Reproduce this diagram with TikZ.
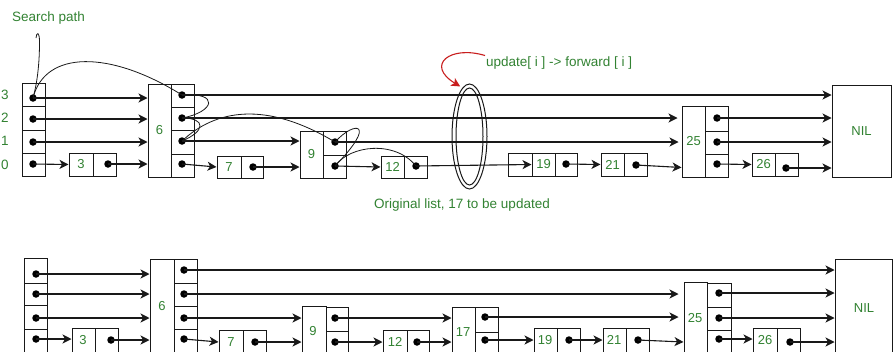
\documentclass[tikz,border=0pt]{standalone}
\usepackage{fontspec}
\setmainfont{Liberation Sans}
\usetikzlibrary{arrows.meta,fit,shapes.geometric,calc}
\definecolor{txtgreen}{RGB}{50,130,50}
\definecolor{linecol}{RGB}{25,25,25}
\definecolor{redarr}{RGB}{200,30,30}
\tikzset{
  cell/.style={draw=linecol, line width=1pt, inner sep=0pt, fill=white},
  lbl/.style={text=txtgreen, font=\fontsize{13}{15}\selectfont, inner sep=0pt},
  txt/.style={text=txtgreen, font=\fontsize{13.5}{16}\selectfont, inner sep=1pt},
  arr/.style={draw=linecol, line width=1.1pt, -{Stealth[length=9pt,width=9pt,inset=2.5pt]}},
  srch/.style={draw=linecol, line width=0.8pt},
  redline/.style={draw=redarr, line width=1.1pt, -{Stealth[length=9pt,width=9pt,inset=2.5pt]}},
  dot/.style={circle, fill=black, inner sep=0pt, minimum size=7.5pt},
  ringshape/.style={draw=linecol, line width=1pt, ellipse, inner sep=0pt}
}
\newcommand\mybox[3]{\node[cell, fit={#2 #3}] (#1) {};}
\begin{document}
\begin{tikzpicture}[x=1pt,y=-1pt]
\useasboundingbox (0,0) rectangle (894,351);
\clip (0,0) rectangle (894,351);

% ================= TOP LIST =================
\mybox{hA3}{(22,83)}{(45,106)}
\mybox{hA2}{(22,106)}{(45,130)}
\mybox{hA1}{(22,130)}{(45,153)}
\mybox{hA0}{(22,153)}{(45,176)}
\mybox{tk3}{(69,153)}{(93,176)}
\mybox{tp3}{(93,153)}{(116,176)}
\mybox{tk6}{(148,84)}{(171,177)}
\mybox{tp6d}{(171,84)}{(194,107)}
\mybox{tp6c}{(171,107)}{(194,130)}
\mybox{tp6b}{(171,130)}{(194,154)}
\mybox{tp6a}{(171,154)}{(194,177)}
\mybox{tk7}{(217,156)}{(241,178)}
\mybox{tp7}{(241,156)}{(263,178)}
\mybox{tk9}{(300,131)}{(323,178)}
\mybox{tp9b}{(323,131)}{(346,155)}
\mybox{tp9a}{(323,155)}{(346,178)}
\mybox{tk12}{(381,156)}{(404,178)}
\mybox{tp12}{(404,156)}{(427,178)}
\mybox{tempty}{(508,153)}{(532,176)}
\mybox{tk19}{(532,153)}{(555,176)}
\mybox{tp19}{(555,153)}{(577,176)}
\mybox{tk21}{(601,153)}{(624,176)}
\mybox{tp21}{(624,153)}{(647,176)}
\mybox{tk25}{(682,106)}{(705,177)}
\mybox{tp25c}{(705,106)}{(728,131)}
\mybox{tp25b}{(705,131)}{(728,154)}
\mybox{tp25a}{(705,154)}{(728,177)}
\mybox{tk26}{(752,153)}{(775,176)}
\mybox{tp26}{(775,153)}{(798,176)}
\mybox{tnil}{(832,85)}{(891,177)}

\node[lbl] (tl3) at (tk3.center) {3};
\node[lbl] (tl6) at (tk6.center) {6};
\node[lbl] (tl7) at (tk7.center) {7};
\node[lbl] (tl9) at (tk9.center) {9};
\node[lbl] (tl12) at (tk12.center) {12};
\node[lbl] (tl19) at (tk19.center) {19};
\node[lbl] (tl21) at (tk21.center) {21};
\node[lbl] (tl25) at (tk25.center) {25};
\node[lbl] (tl26) at (tk26.center) {26};
\node[lbl] (tlnil) at (tnil.center) {NIL};

\node[txt, anchor=west] (lv3) at (0,95) {3};
\node[txt, anchor=west] (lv2) at (0,118) {2};
\node[txt, anchor=west] (lv1) at (0,141) {1};
\node[txt, anchor=west] (lv0) at (0,165) {0};

% dots
\node[dot] (ta3) at (33,98) {};
\node[dot] (ta2) at (33,119) {};
\node[dot] (ta1) at (33,142) {};
\node[dot] (ta0) at (33,164) {};
\node[dot] (td3) at (108,164) {};
\node[dot] (ts3) at (182,95) {};
\node[dot] (ts2) at (182,118) {};
\node[dot] (ts1) at (182,141) {};
\node[dot] (ts0) at (182,164) {};
\node[dot] (td7) at (253,167) {};
\node[dot] (tq1) at (335,142) {};
\node[dot] (tq0) at (335,166) {};
\node[dot] (td12) at (416,166) {};
\node[dot] (td19) at (566,164) {};
\node[dot] (td21) at (636,165) {};
\node[dot] (tf2) at (717,118) {};
\node[dot] (tf1) at (717,142) {};
\node[dot] (tf0) at (717,164) {};
\node[dot] (td26) at (786,168) {};

% arrows
\draw[arr] (ta3.center) -- (ta3.center -| tk6.west);
\draw[arr] (ta2.center) -- (ta2.center -| tk6.west);
\draw[arr] (ta1.center) -- (ta1.center -| tk6.west);
\draw[arr] (ta0.center) -- (tk3.west);
\draw[arr] (td3.center) -- (td3.center -| tk6.west);
\draw[arr] (ts3.center) -- (ts3.center -| tnil.west);
\draw[arr] (ts2.center) -- ([xshift=-4pt]ts2.center -| tk25.west);
\draw[arr] (ts1.center) -- (ts1.center -| tk9.west);
\draw[arr] (ts0.center) -- (tk7.west);
\draw[arr] (td7.center) -- (td7.center -| tk9.west);
\draw[arr] (tq1.center) -- ([xshift=-3pt]tq1.center -| tk25.west);
\draw[arr] (tq0.center) -- (tk12.west);
\draw[arr] (td12.center) -- (tk19.west);
\draw[arr] (td19.center) -- (tk21.west);
\draw[arr] (td21.center) -- ([yshift=10pt]tk25.south west);
\draw[arr] (tf2.center) -- (tf2.center -| tnil.west);
\draw[arr] (tf1.center) -- (tf1.center -| tnil.west);
\draw[arr] (tf0.center) -- (tk26.west);
\draw[arr] (td26.center) -- (td26.center -| tnil.west);

% search path curves
\node[txt, anchor=west] (spath) at (11,18) {Search path};
\coordinate (sp0) at (36,38);
\draw[srch] (sp0) .. controls (36.5,32) and (39.5,31) .. (39.5,42)
  .. controls (39.5,60) and (38,80) .. (ta3.center);
\draw[srch] (ta3.center) .. controls (45,50) and (110,50) .. (ts3.center);
\draw[srch] (ts3.center) .. controls (220,92) and (215,112) .. (ts2.center);
\draw[srch] (ts2.center) .. controls (206,118) and (206,131) .. (ts1.center);
\draw[srch] (ts1.center) .. controls (215,110) and (265,100) .. (tq1.center);
\draw[srch] (tq1.center) .. controls (355,120) and (378,122) .. (tq0.center);
\draw[srch] (tq0.center) .. controls (350,145) and (395,140) .. (td12.center);

% ellipse marker
\node[ringshape, minimum width=35pt, minimum height=105pt] (ello) at (469.5,136.5) {};
\node[ringshape, minimum width=27pt, minimum height=97pt] (elli) at (469.5,136.5) {};

\node[txt, anchor=west] (upd) at (485,63) {update[ i ] -> forward [ i ]};
\draw[redline] (upd.north west) .. controls (450,45) and (425,65) .. ([shift={(-1,-3)}]ello.100);

\node[txt] (orig) at (462,205) {Original list, 17 to be updated};

% ================= BOTTOM LIST =================
\mybox{hB3}{(24,258)}{(47,283)}
\mybox{hB2}{(24,283)}{(47,305)}
\mybox{hB1}{(24,305)}{(47,329)}
\mybox{hB0}{(24,329)}{(47,360)}
\mybox{bk3}{(72,328)}{(95,360)}
\mybox{bp3}{(95,328)}{(118,360)}
\mybox{bk6}{(150,259)}{(174,360)}
\mybox{bp6d}{(174,259)}{(197,283)}
\mybox{bp6c}{(174,283)}{(197,306)}
\mybox{bp6b}{(174,306)}{(197,329)}
\mybox{bp6a}{(174,329)}{(197,360)}
\mybox{bk7}{(219,330)}{(243,360)}
\mybox{bp7}{(243,330)}{(266,360)}
\mybox{bk9}{(302,306)}{(326,360)}
\mybox{bp9b}{(326,307)}{(348,331)}
\mybox{bp9a}{(326,331)}{(348,360)}
\mybox{bk12}{(383,330)}{(407,360)}
\mybox{bp12}{(407,330)}{(429,360)}
\mybox{bk17}{(452,307)}{(475,360)}
\mybox{bp17b}{(475,307)}{(498,332)}
\mybox{bp17a}{(475,332)}{(498,360)}
\mybox{bk19}{(534,328)}{(557,360)}
\mybox{bp19}{(557,328)}{(580,360)}
\mybox{bk21}{(603,328)}{(626,360)}
\mybox{bp21}{(626,328)}{(649,360)}
\mybox{bk25}{(684,282)}{(707,360)}
\mybox{bp25c}{(707,283)}{(731,307)}
\mybox{bp25b}{(707,307)}{(731,330)}
\mybox{bp25a}{(707,330)}{(731,360)}
\mybox{bk26}{(753,328)}{(777,360)}
\mybox{bp26}{(777,328)}{(800,360)}
\mybox{bnil}{(835,259)}{(892,360)}

\node[lbl] (bl3) at (83,340) {3};
\node[lbl] (bl6) at (162,306) {6};
\node[lbl] (bl7) at (231,342) {7};
\node[lbl] (bl9) at (313,331) {9};
\node[lbl] (bl12) at (395,342) {12};
\node[lbl] (bl17) at (463,332) {17};
\node[lbl] (bl19) at (545,340) {19};
\node[lbl] (bl21) at (614,340) {21};
\node[lbl] (bl25) at (695,318) {25};
\node[lbl] (bl26) at (765,340) {26};
\node[lbl] (blnil) at (864,308) {NIL};

\node[dot] (ba3) at (36,274) {};
\node[dot] (ba2) at (36,294) {};
\node[dot] (ba1) at (36,318) {};
\node[dot] (ba0) at (36,339) {};
\node[dot] (bd3) at (111,340) {};
\node[dot] (bs3) at (184,270) {};
\node[dot] (bs2) at (184,294) {};
\node[dot] (bs1) at (184,318) {};
\node[dot] (bs0) at (184,339) {};
\node[dot] (bd7) at (255,342) {};
\node[dot] (bq1) at (335,318) {};
\node[dot] (bq0) at (335,342) {};
\node[dot] (bd12) at (417,342) {};
\node[dot] (bv1) at (485,317) {};
\node[dot] (bv0) at (485,340) {};
\node[dot] (bd19) at (569,340) {};
\node[dot] (bd21) at (638,340) {};
\node[dot] (bw3) at (719,293) {};
\node[dot] (bw2) at (719,318) {};
\node[dot] (bw1) at (719,339) {};
\node[dot] (bd26) at (790,342) {};

\draw[arr] (ba3.center) -- (ba3.center -| bk6.west);
\draw[arr] (ba2.center) -- (ba2.center -| bk6.west);
\draw[arr] (ba1.center) -- (ba1.center -| bk6.west);
\draw[arr] (ba0.center) -- (ba0.center -| bk3.west);
\draw[arr] (bd3.center) -- (bd3.center -| bk6.west);
\draw[arr] (bs3.center) -- (bs3.center -| bnil.west);
\draw[arr] (bs2.center) -- ([xshift=-5pt]bs2.center -| bk25.west);
\draw[arr] (bs1.center) -- (bs1.center -| bk9.west);
\draw[arr] (bs0.center) -- (bd7.center -| bk7.west);
\draw[arr] (bd7.center) -- (bd7.center -| bk9.west);
\draw[arr] (bq1.center) -- (bq1.center -| bk17.west);
\draw[arr] (bq0.center) -- (bq0.center -| bk12.west);
\draw[arr] (bd12.center) -- (bd12.center -| bk17.west);
\draw[arr] (bv1.center) -- ([xshift=-5pt]bv1.center -| bk25.west);
\draw[arr] (bv0.center) -- (bv0.center -| bk19.west);
\draw[arr] (bd19.center) -- (bd19.center -| bk21.west);
\draw[arr] (bd21.center) -- (bd26.center -| bk25.west);
\draw[arr] (bw3.center) -- (bw3.center -| bnil.west);
\draw[arr] (bw2.center) -- (bw2.center -| bnil.west);
\draw[arr] (bw1.center) -- (bw1.center -| bk26.west);
\draw[arr] (bd26.center) -- (bd26.center -| bnil.west);
\end{tikzpicture}
\end{document}
